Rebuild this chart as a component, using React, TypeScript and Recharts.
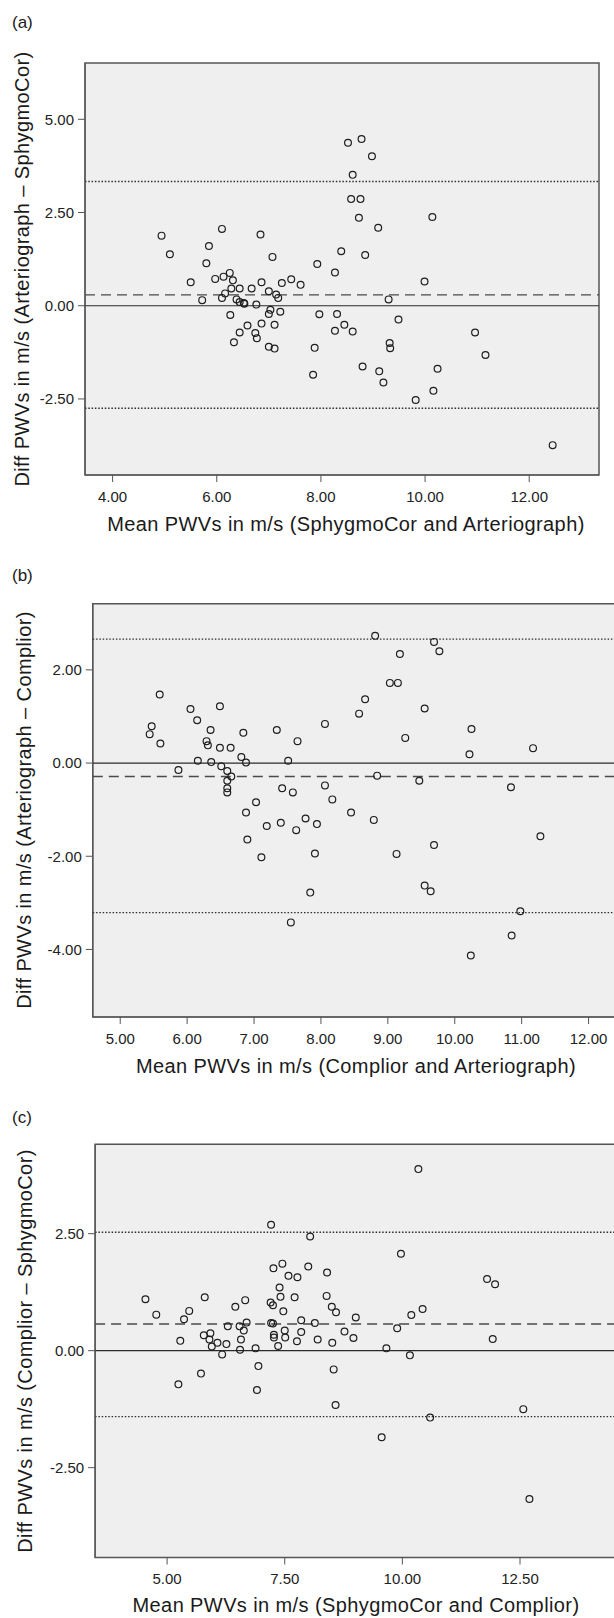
import React from 'react';
import {
  ScatterChart,
  Scatter,
  XAxis,
  YAxis,
  CartesianGrid,
  ReferenceLine,
  ReferenceArea,
} from 'recharts';

// ---------- Panel (a): Arteriograph vs SphygmoCor ----------
const aMeanX = [
  4.94, 5.10, 6.10, 5.85, 5.80, 5.50, 5.97, 6.13, 6.25, 6.31, 6.28, 6.44, 6.16, 6.10, 5.72,
  6.38, 6.44, 6.52, 6.67, 6.86, 6.84, 7.07, 7.00, 7.14, 7.18, 7.25, 7.43, 7.61, 6.76, 6.26,
  7.03, 7.00, 7.22, 6.59, 6.86, 7.11, 6.44, 6.74, 6.77, 6.33, 7.00, 7.11, 7.93, 8.27, 8.39,
  8.52, 8.78, 8.98, 8.61, 8.58, 8.76, 8.73, 9.10, 8.85, 10.14, 9.99, 9.30, 7.97, 8.31, 8.45,
  8.27, 8.61, 9.49, 9.32, 9.33, 7.88, 7.85, 8.80, 9.12, 9.20, 10.24, 10.16, 9.82, 10.96, 11.16,
  12.45, 6.53,
];
const aDiffY = [
  1.88, 1.38, 2.06, 1.60, 1.14, 0.63, 0.72, 0.78, 0.88, 0.68, 0.46, 0.46, 0.33, 0.21, 0.15,
  0.17, 0.10, 0.07, 0.46, 0.63, 1.91, 1.31, 0.39, 0.30, 0.21, 0.61, 0.71, 0.56, 0.03, -0.25,
  -0.11, -0.22, -0.16, -0.53, -0.48, -0.51, -0.72, -0.73, -0.87, -0.98, -1.10, -1.15, 1.12, 0.89, 1.46,
  4.37, 4.47, 4.01, 3.51, 2.86, 2.86, 2.36, 2.09, 1.36, 2.38, 0.65, 0.17, -0.23, -0.22, -0.51,
  -0.67, -0.69, -0.37, -1.00, -1.14, -1.13, -1.85, -1.63, -1.76, -2.06, -1.69, -2.28, -2.53, -0.72, -1.32,
  -3.74, 0.05,
];
const aXTicks = [4, 6, 8, 10, 12];
const aYTicks = [-2.5, 0, 2.5, 5];
const aXDomain = [3.47, 13.34];
const aYDomain = [-4.54, 6.51];
const aLimits = [0.29, 3.33, -2.75]; // bias, upper LoA, lower LoA

// ---------- Panel (b): Arteriograph vs Complior ----------
const bMeanX = [
  8.81, 9.69, 9.77, 9.18, 9.03, 9.15, 8.66, 8.57, 9.55, 9.26, 10.25, 10.22, 11.17, 5.59, 5.47,
  5.44, 5.60, 6.05, 6.15, 6.49, 6.35, 6.29, 6.31, 6.49, 6.65, 6.84, 7.34, 7.65, 8.06, 6.16,
  6.36, 5.87, 6.51, 6.81, 6.88, 6.60, 6.66, 6.60, 6.60, 6.60, 7.51, 7.42, 7.58, 7.03, 6.88,
  7.19, 7.40, 7.63, 7.77, 7.94, 6.90, 7.11, 7.91, 8.06, 8.17, 8.45, 8.79, 8.84, 9.47, 9.13,
  9.69, 9.55, 9.64, 7.84, 7.55, 10.84, 11.28, 10.98, 10.85, 10.24,
];
const bDiffY = [
  2.73, 2.60, 2.40, 2.34, 1.72, 1.72, 1.37, 1.06, 1.17, 0.54, 0.73, 0.19, 0.32, 1.47, 0.79,
  0.62, 0.42, 1.16, 0.92, 1.22, 0.71, 0.47, 0.38, 0.33, 0.33, 0.65, 0.71, 0.47, 0.84, 0.05,
  0.02, -0.15, -0.07, 0.13, 0.01, -0.17, -0.29, -0.38, -0.54, -0.63, 0.05, -0.54, -0.63, -0.84, -1.06,
  -1.35, -1.28, -1.44, -1.19, -1.31, -1.64, -2.02, -1.94, -0.48, -0.78, -1.06, -1.22, -0.27, -0.38, -1.95,
  -1.76, -2.63, -2.75, -2.78, -3.42, -0.52, -1.57, -3.18, -3.70, -4.13,
];
const bXTicks = [5, 6, 7, 8, 9, 10, 11, 12];
const bYTicks = [-4, -2, 0, 2];
const bXDomain = [4.59, 12.41];
const bYDomain = [-5.45, 3.42];
const bLimits = [-0.29, 2.66, -3.21];

// ---------- Panel (c): Complior vs SphygmoCor ----------
const cMeanX = [
  10.34, 7.21, 8.04, 9.97, 7.26, 7.45, 8.00, 7.58, 7.77, 8.40, 11.80, 11.97, 7.39, 7.41, 7.71,
  8.39, 4.54, 5.80, 6.66, 6.45, 7.20, 7.25, 8.50, 8.59, 7.47, 5.47, 4.77, 9.01, 10.19, 10.43,
  5.36, 6.29, 6.54, 6.69, 7.21, 7.25, 7.85, 8.14, 9.89, 6.63, 7.50, 7.85, 8.77, 7.27, 7.27,
  7.51, 5.78, 5.92, 5.90, 5.28, 6.07, 6.26, 5.95, 6.17, 6.57, 6.55, 6.88, 7.36, 7.76, 8.20,
  8.51, 8.96, 9.66, 10.16, 11.92, 5.72, 5.24, 6.94, 6.91, 8.54, 8.58, 10.59, 9.56, 12.57, 12.70,
];
const cDiffY = [
  3.88, 2.69, 2.44, 2.07, 1.76, 1.86, 1.80, 1.60, 1.57, 1.67, 1.53, 1.42, 1.35, 1.15, 1.14,
  1.17, 1.10, 1.14, 1.08, 0.94, 1.03, 0.97, 0.94, 0.82, 0.84, 0.85, 0.77, 0.71, 0.76, 0.89,
  0.67, 0.52, 0.52, 0.60, 0.59, 0.58, 0.65, 0.59, 0.48, 0.43, 0.43, 0.40, 0.41, 0.34, 0.28,
  0.28, 0.33, 0.37, 0.24, 0.21, 0.17, 0.14, 0.09, -0.08, 0.24, 0.02, 0.05, 0.10, 0.20, 0.24,
  0.17, 0.27, 0.05, -0.10, 0.25, -0.49, -0.72, -0.33, -0.84, -0.40, -1.16, -1.43, -1.85, -1.25, -3.17,
];
const cXTicks = [5, 7.5, 10, 12.5];
const cYTicks = [-2.5, 0, 2.5];
const cXDomain = [3.47, 14.54];
const cYDomain = [-4.42, 4.41];
const cLimits = [0.57, 2.53, -1.41];

// ---------- Text ----------
const panelLabels = ['(a)', '(b)', '(c)'];
const xTitles = [
  'Mean PWVs in m/s (SphygmoCor and Arteriograph)',
  'Mean PWVs in m/s (Complior and Arteriograph)',
  'Mean PWVs in m/s (SphygmoCor and Complior)',
];
const yTitles = [
  'Diff PWVs in m/s (Arteriograph \u2013 SphygmoCor)',
  'Diff PWVs in m/s (Arteriograph \u2013 Complior)',
  'Diff PWVs in m/s (Complior \u2013 SphygmoCor)',
];

const FONT = '"Liberation Sans", Arial, Helvetica, sans-serif';
const tickStyle = { fontSize: 15, fill: '#222', fontFamily: FONT };
const fmt = (v: number) => v.toFixed(2);

const Dot = (props: any) => {
  const { cx, cy } = props;
  if (cx == null || cy == null) return null;
  return <circle cx={cx} cy={cy} r={3.4} fill="none" stroke="#1e1e1e" strokeWidth={1.2} />;
};

type PanelProps = {
  xs: number[];
  ys: number[];
  xDomain: number[];
  yDomain: number[];
  xTicks: number[];
  yTicks: number[];
  limits: number[];
  width: number;
  height: number;
  margin: { top: number; right: number; left: number; bottom: number };
};

function Panel({ xs, ys, xDomain, yDomain, xTicks, yTicks, limits, width, height, margin }: PanelProps) {
  const data = xs.map((x, i) => ({ x, y: ys[i] }));
  return (
    <ScatterChart width={width} height={height} margin={margin}>
      <CartesianGrid horizontal={false} vertical={false} fill="#efefef" stroke="none" />
      <XAxis
        type="number"
        dataKey="x"
        domain={xDomain}
        ticks={xTicks}
        allowDataOverflow
        interval={0}
        tickFormatter={fmt}
        height={30}
        tickSize={7}
        tickMargin={9}
        tick={tickStyle}
        axisLine={{ stroke: '#555' }}
        tickLine={{ stroke: '#555' }}
      />
      <YAxis
        type="number"
        dataKey="y"
        domain={yDomain}
        ticks={yTicks}
        allowDataOverflow
        interval={0}
        tickFormatter={fmt}
        width={60}
        tickSize={7}
        tickMargin={4}
        tick={tickStyle}
        axisLine={{ stroke: '#555' }}
        tickLine={{ stroke: '#555' }}
      />
      <ReferenceLine y={limits[1]} stroke="#2e2e2e" strokeWidth={1.4} strokeDasharray="1.5 1.8" ifOverflow="visible" />
      <ReferenceLine y={limits[2]} stroke="#2e2e2e" strokeWidth={1.4} strokeDasharray="1.5 1.8" ifOverflow="visible" />
      <ReferenceLine y={0} stroke="#2a2a2a" strokeWidth={1.2} ifOverflow="visible" />
      <ReferenceLine y={limits[0]} stroke="#4a4a4a" strokeWidth={1.4} strokeDasharray="10 6" ifOverflow="visible" />
      <Scatter data={data} shape={<Dot />} isAnimationActive={false} />
      <ReferenceArea
        x1={xDomain[0]}
        x2={xDomain[1]}
        y1={yDomain[0]}
        y2={yDomain[1]}
        fill="none"
        stroke="#555"
        strokeWidth={1.5}
        ifOverflow="visible"
      />
    </ScatterChart>
  );
}

export default function App() {
  const titleStyle = { fontFamily: FONT, fontSize: 20, fill: '#1a1a1a', letterSpacing: 0.4 } as const;
  const labelStyle = { fontFamily: FONT, fontSize: 17, fill: '#1a1a1a' } as const;
  return (
    <div
      style={{
        position: 'absolute',
        left: 0,
        top: 0,
        width: 614,
        height: 1618,
        overflow: 'hidden',
        background: '#fff',
      }}
    >
      <div style={{ position: 'absolute', left: 0, top: 0 }}>
        <Panel
          xs={aMeanX}
          ys={aDiffY}
          xDomain={aXDomain}
          yDomain={aYDomain}
          xTicks={aXTicks}
          yTicks={aYTicks}
          limits={aLimits}
          width={614}
          height={540}
          margin={{ top: 63, right: 15, left: 25, bottom: 35 }}
        />
      </div>
      <div style={{ position: 'absolute', left: 0, top: 520 }}>
        <Panel
          xs={bMeanX}
          ys={bDiffY}
          xDomain={bXDomain}
          yDomain={bYDomain}
          xTicks={bXTicks}
          yTicks={bYTicks}
          limits={bLimits}
          width={620}
          height={540}
          margin={{ top: 83.7, right: 4, left: 32.8, bottom: 13 }}
        />
      </div>
      <div style={{ position: 'absolute', left: 0, top: 1060 }}>
        <Panel
          xs={cMeanX}
          ys={cDiffY}
          xDomain={cXDomain}
          yDomain={cYDomain}
          xTicks={cXTicks}
          yTicks={cYTicks}
          limits={cLimits}
          width={620}
          height={558}
          margin={{ top: 84.3, right: 4, left: 35.1, bottom: 30.5 }}
        />
      </div>
      <svg
        width={614}
        height={1618}
        style={{ position: 'absolute', left: 0, top: 0, pointerEvents: 'none' }}
      >
        <text x={12} y={28} style={labelStyle}>{panelLabels[0]}</text>
        <text x={12} y={581} style={labelStyle}>{panelLabels[1]}</text>
        <text x={12} y={1123} style={labelStyle}>{panelLabels[2]}</text>

        <text x={346} y={531} textAnchor="middle" style={titleStyle}>{xTitles[0]}</text>
        <text x={356} y={1073} textAnchor="middle" style={titleStyle}>{xTitles[1]}</text>
        <text x={356} y={1612} textAnchor="middle" style={titleStyle}>{xTitles[2]}</text>

        <text x={0} y={0} textAnchor="middle" style={titleStyle} transform="translate(29,269) rotate(-90)">
          {yTitles[0]}
        </text>
        <text x={0} y={0} textAnchor="middle" style={titleStyle} transform="translate(31,810) rotate(-90)">
          {yTitles[1]}
        </text>
        <text x={0} y={0} textAnchor="middle" style={titleStyle} transform="translate(32,1351) rotate(-90)">
          {yTitles[2]}
        </text>
      </svg>
    </div>
  );
}
